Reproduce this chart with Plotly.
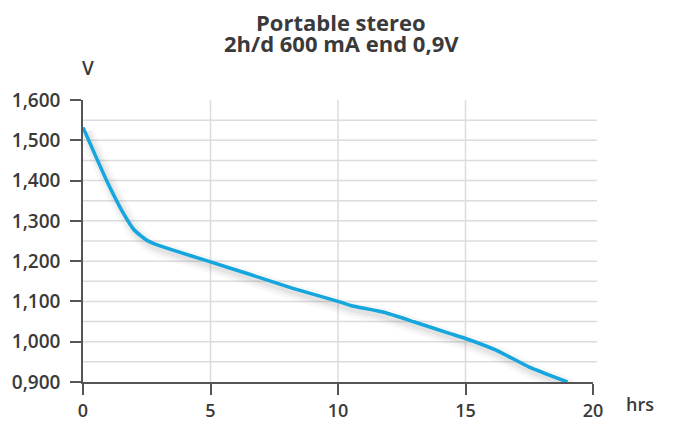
import plotly.graph_objects as go

# Data
hours = [0, 0.5, 1, 1.5, 2, 2.5, 2.8, 3.5, 5, 6.5, 8.2, 10, 10.5, 11.8, 13, 14.4, 15, 16.2, 17.5, 19]
volts = [1.532, 1.46, 1.39, 1.328, 1.278, 1.252, 1.243, 1.228, 1.198, 1.168, 1.133, 1.100, 1.090,
         1.073, 1.049, 1.020, 1.008, 0.979, 0.937, 0.900]

x_ticks = [0, 5, 10, 15, 20]
y_ticks = [0.9, 1.0, 1.1, 1.2, 1.3, 1.4, 1.5, 1.6]
y_tick_text = ["0,900", "1,000", "1,100", "1,200", "1,300", "1,400", "1,500", "1,600"]
grid_x = [5, 10, 15]
grid_y = [0.95, 1.0, 1.05, 1.1, 1.15, 1.2, 1.25, 1.3, 1.35, 1.4, 1.45, 1.5, 1.55]

title_1 = "Portable stereo"
title_2 = "2h/d 600 mA end 0,9V"

FONT = "Open Sans"
TXT = "#3a3a3a"
AX = "#555555"
GRID = "#dcdcdc"
LINE = "#14a6de"

# figure offset by the page's default 8px body margin
W, H = 657, 415
ML, MR, MT, MB = 75, 72, 92, 41
PW, PH = W - ML - MR, H - MT - MB

fig = go.Figure()

# soft shadow under the curve
shadow_off = 0.011
for w, a in [(16, 0.04), (10, 0.06), (5, 0.07)]:
    fig.add_trace(go.Scatter(
        x=[h + 0.12 for h in hours], y=[v - shadow_off for v in volts],
        mode="lines", line=dict(color=f"rgba(80,80,80,{a})", width=w, shape="spline", smoothing=0.5),
        hoverinfo="skip", showlegend=False))

fig.add_trace(go.Scatter(
    x=hours, y=volts, mode="lines",
    line=dict(color=LINE, width=3.5, shape="spline", smoothing=0.5),
    showlegend=False, cliponaxis=False))

shapes = []
for gx in grid_x:
    shapes.append(dict(type="line", xref="x", yref="y", x0=gx, x1=gx, y0=0.9, y1=1.6,
                       line=dict(color=GRID, width=1.5), layer="below"))
for gy in grid_y:
    shapes.append(dict(type="line", xref="paper", yref="y", x0=0, x1=1 + 4 / PW, y0=gy, y1=gy,
                       line=dict(color=GRID, width=1.5), layer="below"))


def py(pix):
    """paper y for a pixel row measured from the top of the figure"""
    return 1 + (MT - pix) / PH


def px(pix):
    return (pix - ML) / PW


tick_font = dict(family=FONT, size=19, color=TXT, weight=600)
xtick_font = dict(family=FONT, size=18, color=TXT, weight=600)

fig.update_layout(
    width=W, height=H, autosize=False,
    margin=dict(l=ML, r=MR, t=MT, b=MB, pad=0),
    paper_bgcolor="white", plot_bgcolor="white",
    font=dict(family=FONT, color=TXT, size=16),
    shapes=shapes,
    xaxis=dict(range=[0, 20], tickvals=x_ticks, ticktext=[str(t) for t in x_ticks],
               showgrid=False, zeroline=False, showline=True, linecolor=AX, linewidth=1.5,
               ticks="outside", ticklen=11, tickwidth=1.5, tickcolor=AX,
               tickfont=xtick_font, ticklabelstandoff=1, automargin=False),
    yaxis=dict(range=[0.9, 1.6], tickvals=y_ticks, ticktext=y_tick_text,
               showgrid=False, zeroline=False, showline=True, linecolor=AX, linewidth=1.5,
               ticks="outside", ticklen=11, tickwidth=1.5, tickcolor=AX,
               tickfont=tick_font, ticklabelstandoff=6, automargin=False),
    annotations=[
        dict(text=title_1, x=px(333), y=py(14), xref="paper", yref="paper",
             xanchor="center", yanchor="middle", showarrow=False,
             font=dict(family=FONT, size=22, color=TXT, weight=700)),
        dict(text=title_2, x=px(333), y=py(35), xref="paper", yref="paper",
             xanchor="center", yanchor="middle", showarrow=False,
             font=dict(family=FONT, size=22, color=TXT, weight=700)),
        dict(text="V", x=px(80), y=py(60), xref="paper", yref="paper",
             xanchor="center", yanchor="middle", showarrow=False,
             font=dict(family=FONT, size=19, color=TXT, weight=600)),
        dict(text="hrs", x=px(632), y=py(396), xref="paper", yref="paper",
             xanchor="center", yanchor="middle", showarrow=False,
             font=dict(family=FONT, size=18, color=TXT, weight=600)),
    ],
)

fig.write_html("out.html")
